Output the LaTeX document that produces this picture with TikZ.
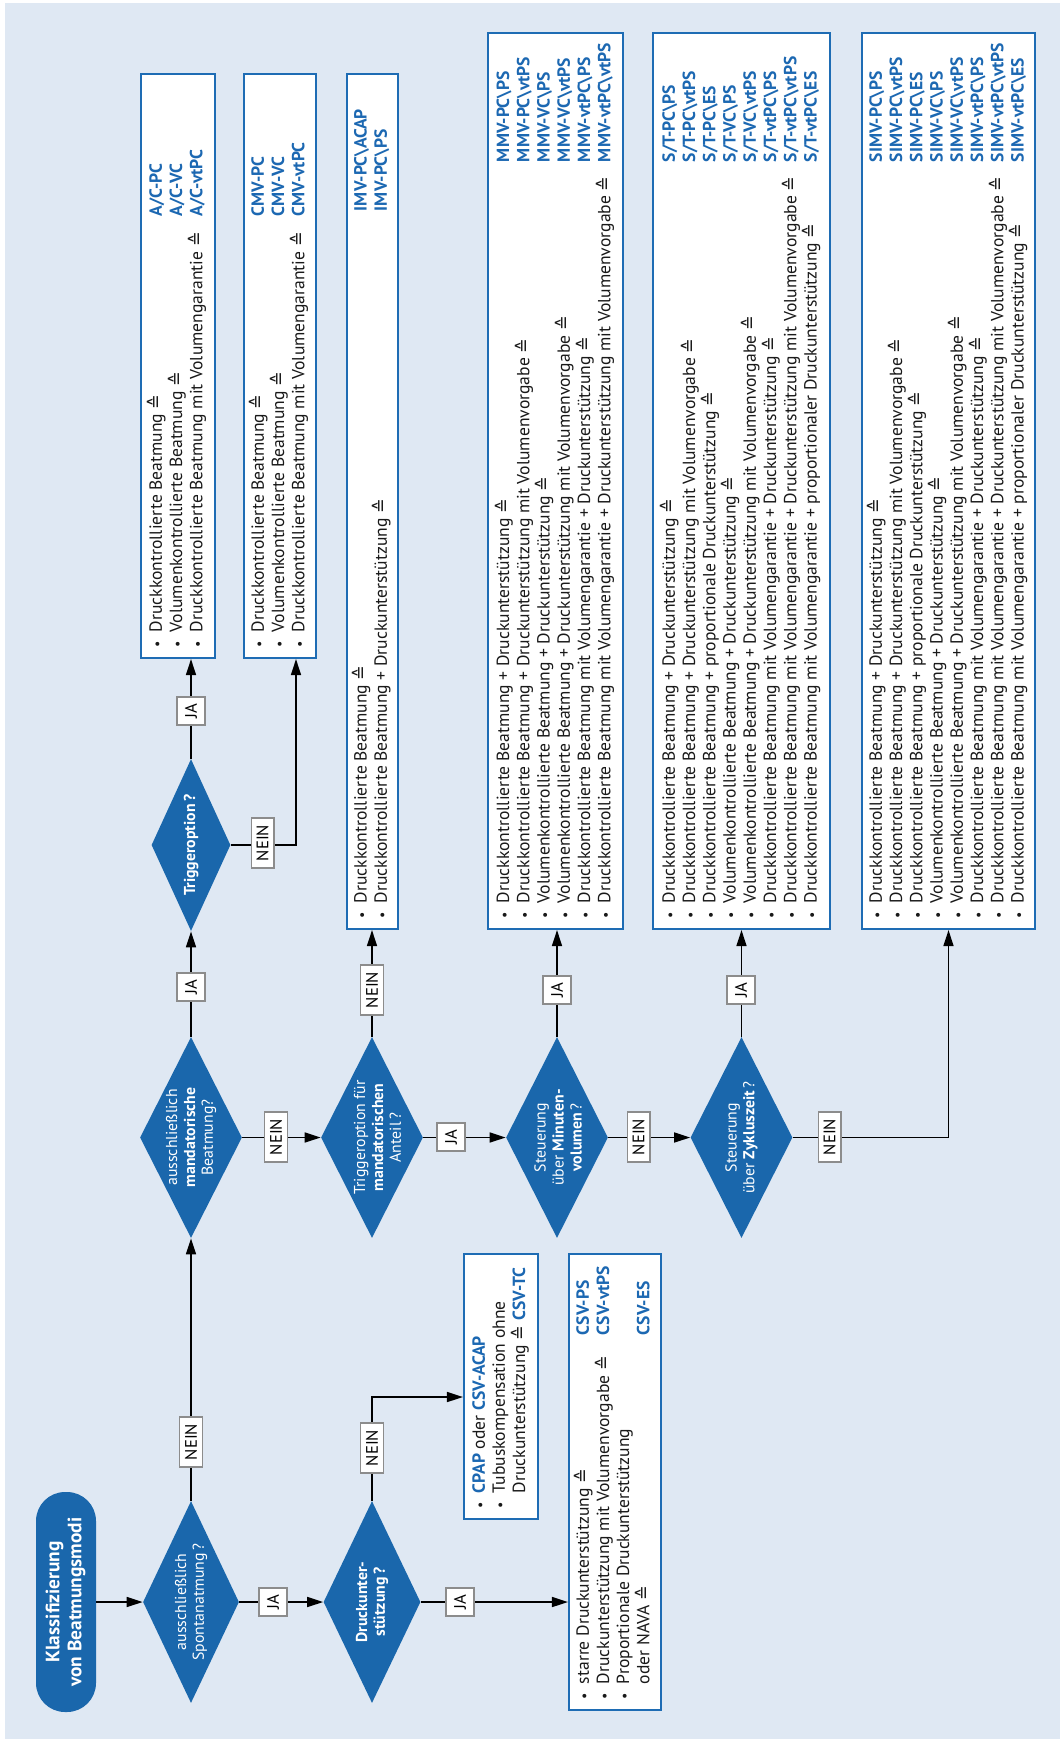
\documentclass[tikz,border=0pt]{standalone}
\usepackage{fontspec}
\setmainfont{PT Sans}
\newfontfamily\symfont{DejaVu Sans}
\usetikzlibrary{shapes.geometric,arrows.meta}
\newlength{\pxu}\setlength{\pxu}{0.02cm}
\newlength{\tcol}
\definecolor{hgblau}{RGB}{223,232,243}
\definecolor{rautenblau}{RGB}{26,103,172}
\definecolor{kastenblau}{RGB}{30,108,180}
\definecolor{abkblau}{RGB}{28,104,178}
\newcommand{\entspr}{{\symfont\char"2259}}
\newcommand{\abk}[1]{\textbf{\color{abkblau}#1}}
\newcommand{\bul}{\makebox[16\pxu][l]{\hspace{1\pxu}\scalebox{0.8}{\textbullet}}}
\newcommand{\eintrag}[2]{\makebox[\tcol][l]{\bul#1}&#2\\}
\newcommand{\folge}[2]{\makebox[\tcol][l]{\hspace{16\pxu}#1}&#2\\}
\newcommand{\kasten}[3]{\rotatebox{90}{\setlength{\tcol}{#2}\makebox[#1][l]{\begin{tabular}{@{}l@{}l@{}}#3\end{tabular}}}}
\newcommand{\raute}[2][-2.5pt]{\rotatebox{90}{\makebox[0pt]{\raisebox{#1}[0pt][0pt]{\begin{tabular}{@{}c@{}}#2\end{tabular}}}}}
\begin{document}
\begin{tikzpicture}[x=0.02cm,y=-0.02cm,
  raute/.style={diamond,fill=rautenblau,text=white,inner sep=0pt,minimum width=102\pxu,minimum height=201\pxu,font=\fontsize{9}{10.2}\selectfont},
  kasten/.style={draw=kastenblau,line width=1.2pt,fill=white,inner sep=0pt,text=black!90,font=\fontsize{10}{11.34}\selectfont},
  start/.style={rectangle,rounded corners=29\pxu,fill=rautenblau,text=white,inner sep=0pt,minimum width=60\pxu,minimum height=220\pxu,font=\fontsize{11}{12.5}\selectfont\bfseries},
  antwort/.style={draw=black!45,line width=0.8pt,fill=white,inner xsep=3pt,inner ysep=4pt,font=\fontsize{9.5}{11}\selectfont},
  jabox/.style={antwort,minimum width=28\pxu,minimum height=28\pxu,inner ysep=1pt},
  pfeil/.style={-{Triangle[length=0.32cm,width=0.2cm]},line width=0.9pt}]
\useasboundingbox (0,0) rectangle (1060,1739);
\fill [hgblau] (5,3) rectangle (1060,1739);
\node [start] (start) at (66,1602) {\rotatebox{90}{\begin{tabular}{@{}c@{}}Klassifizierung\\von Beatmungsmodi\end{tabular}}};
\node [raute,minimum width=96\pxu,minimum height=202\pxu] (d1) at (191,1602) {\raute{ausschließlich\\Spontanatmung\,?}};
\node [raute,minimum width=97\pxu,minimum height=202\pxu] (d2) at (372,1602) {\raute{\textbf{Druckunter-}\\\textbf{stützung\,?}}};
\node [raute] (d3) at (191,1137.5) {\raute{ausschließlich\\\textbf{mandatorische}\\Beatmung?}};
\node [raute,minimum width=79\pxu,minimum height=172\pxu] (d4) at (191,845) {\raute{\textbf{Triggeroption\,?}}};
\node [raute] (d5) at (372,1137.5) {\raute[-6.5pt]{Triggeroption für\\\textbf{mandatorischen}\\Anteil\,?}};
\node [raute] (d6) at (557,1137.5) {\raute[-4pt]{Steuerung\\über \textbf{Minuten-}\\\textbf{volumen}\,?}};
\node [raute] (d7) at (741.5,1137.5) {\raute{Steuerung\\über \textbf{Zykluszeit}\,?}};
\node [kasten,minimum width=74\pxu,minimum height=584\pxu] (ac) at (178,366) {\kasten{564\pxu}{432\pxu}{%
\eintrag{Druckkontrollierte Beatmung \entspr}{\abk{A/C-PC}}
\eintrag{Volumenkontrollierte Beatmung \entspr}{\abk{A/C-VC}}
\eintrag{Druckkontrollierte Beatmung mit Volumengarantie \entspr}{\abk{A/C-vtPC}}}};
\node [kasten,minimum width=72\pxu,minimum height=584\pxu] (cmv) at (280,366) {\kasten{564\pxu}{432\pxu}{%
\eintrag{Druckkontrollierte Beatmung \entspr}{\abk{CMV-PC}}
\eintrag{Volumenkontrollierte Beatmung \entspr}{\abk{CMV-VC}}
\eintrag{Druckkontrollierte Beatmung mit Volumengarantie \entspr}{\abk{CMV-vtPC}}}};
\node [kasten,minimum width=51\pxu,minimum height=855\pxu] (imv) at (372.5,501.5) {\kasten{835\pxu}{708\pxu}{%
\eintrag{Druckkontrollierte Beatmung \entspr}{\abk{IMV-PC\textbackslash ACAP}}
\eintrag{Druckkontrollierte Beatmung + Druckunterstützung \entspr}{\abk{IMV-PC\textbackslash PS}}}};
\node [kasten,minimum width=135\pxu,minimum height=896\pxu] (mmv) at (555.5,481) {\kasten{876\pxu}{757\pxu}{%
\eintrag{Druckkontrollierte Beatmung + Druckunterstützung \entspr}{\abk{MMV-PC\textbackslash PS}}
\eintrag{Druckkontrollierte Beatmung + Druckunterstützung mit Volumenvorgabe \entspr}{\abk{MMV-PC\textbackslash vtPS}}
\eintrag{Volumenkontrollierte Beatmung + Druckunterstützung \entspr}{\abk{MMV-VC\textbackslash PS}}
\eintrag{Volumenkontrollierte Beatmung + Druckunterstützung mit Volumenvorgabe \entspr}{\abk{MMV-VC\textbackslash vtPS}}
\eintrag{Druckkontrollierte Beatmung mit Volumengarantie + Druckunterstützung \entspr}{\abk{MMV-vtPC\textbackslash PS}}
\eintrag{Druckkontrollierte Beatmung mit Volumengarantie + Druckunterstützung mit Volumenvorgabe \entspr}{\abk{MMV-vtPC\textbackslash vtPS}}}};
\node [kasten,minimum width=177\pxu,minimum height=896\pxu] (st) at (741.5,481) {\kasten{876\pxu}{757\pxu}{%
\eintrag{Druckkontrollierte Beatmung + Druckunterstützung \entspr}{\abk{S/T-PC\textbackslash PS}}
\eintrag{Druckkontrollierte Beatmung + Druckunterstützung mit Volumenvorgabe \entspr}{\abk{S/T-PC\textbackslash vtPS}}
\eintrag{Druckkontrollierte Beatmung + proportionale Druckunterstützung \entspr}{\abk{S/T-PC\textbackslash ES}}
\eintrag{Volumenkontrollierte Beatmung + Druckunterstützung \entspr}{\abk{S/T-VC\textbackslash PS}}
\eintrag{Volumenkontrollierte Beatmung + Druckunterstützung mit Volumenvorgabe \entspr}{\abk{S/T-VC\textbackslash vtPS}}
\eintrag{Druckkontrollierte Beatmung mit Volumengarantie + Druckunterstützung \entspr}{\abk{S/T-vtPC\textbackslash PS}}
\eintrag{Druckkontrollierte Beatmung mit Volumengarantie + Druckunterstützung mit Volumenvorgabe \entspr}{\abk{S/T-vtPC\textbackslash vtPS}}
\eintrag{Druckkontrollierte Beatmung mit Volumengarantie + proportionaler Druckunterstützung \entspr}{\abk{S/T-vtPC\textbackslash ES}}}};
\node [kasten,minimum width=173\pxu,minimum height=896\pxu] (simv) at (948.5,481) {\kasten{876\pxu}{757\pxu}{%
\eintrag{Druckkontrollierte Beatmung + Druckunterstützung \entspr}{\abk{SIMV-PC\textbackslash PS}}
\eintrag{Druckkontrollierte Beatmung + Druckunterstützung mit Volumenvorgabe \entspr}{\abk{SIMV-PC\textbackslash vtPS}}
\eintrag{Druckkontrollierte Beatmung + proportionale Druckunterstützung \entspr}{\abk{SIMV-PC\textbackslash ES}}
\eintrag{Volumenkontrollierte Beatmung + Druckunterstützung \entspr}{\abk{SIMV-VC\textbackslash PS}}
\eintrag{Volumenkontrollierte Beatmung + Druckunterstützung mit Volumenvorgabe \entspr}{\abk{SIMV-VC\textbackslash vtPS}}
\eintrag{Druckkontrollierte Beatmung mit Volumengarantie + Druckunterstützung \entspr}{\abk{SIMV-vtPC\textbackslash PS}}
\eintrag{Druckkontrollierte Beatmung mit Volumengarantie + Druckunterstützung mit Volumenvorgabe \entspr}{\abk{SIMV-vtPC\textbackslash vtPS}}
\eintrag{Druckkontrollierte Beatmung mit Volumengarantie + proportionaler Druckunterstützung \entspr}{\abk{SIMV-vtPC\textbackslash ES}}}};
\node [kasten,minimum width=74\pxu,minimum height=265\pxu] (cpap) at (501,1386.5) {\kasten{245\pxu}{245\pxu}{%
\eintrag{\abk{CPAP} oder \abk{CSV-ACAP}}{}
\eintrag{Tubuskompensation ohne}{}
\folge{Druckunterstützung \entspr\ \abk{CSV-TC}}{}}};
\node [kasten,minimum width=92\pxu,minimum height=456\pxu] (csv) at (615,1482) {\kasten{436\pxu}{365\pxu}{%
\eintrag{starre Druckunterstützung \entspr}{\abk{CSV-PS}}
\eintrag{Druckunterstützung mit Volumenvorgabe \entspr}{\abk{CSV-vtPS}}
\eintrag{Proportionale Druckunterstützung}{}
\folge{oder NAVA \entspr}{\abk{CSV-ES}}}};
\draw [pfeil] (start) -- (d1);
\draw [pfeil] (d1) -- (d2);
\draw [pfeil] (d2.east) -- (d2.east -| csv.west);
\draw [pfeil] (d1.north) -- (d3.south);
\draw [pfeil] (d2.north) |- ([yshift=-0.21cm]cpap.west);
\draw [pfeil] (d3.north) -- (d4.south);
\draw [pfeil] (d4.north) -- (d4.north |- ac.south);
\draw [pfeil] (d4.east) -| ([xshift=0.32cm]cmv.south);
\draw [pfeil] (d3) -- (d5);
\draw [pfeil] (d5.north) -- (d5.north |- imv.south);
\draw [pfeil] (d5) -- (d6);
\draw [pfeil] (d6.north) -- (d6.north |- mmv.south);
\draw [pfeil] (d6) -- (d7);
\draw [pfeil] (d7.north) -- (st.south);
\draw [pfeil] (d7.east) -| (simv.south);
\node [jabox] (ja1) at (273,1602) {\rotatebox{90}{JA}};
\node [jabox] (ja2) at (460,1602) {\rotatebox{90}{JA}};
\node [antwort] (nein1) at (191,1442) {\rotatebox{90}{NEIN}};
\node [antwort] (nein2) at (372,1448) {\rotatebox{90}{NEIN}};
\node [jabox] (ja3) at (191,987) {\rotatebox{90}{JA}};
\node [jabox] (ja4) at (191,711) {\rotatebox{90}{JA}};
\node [antwort] (nein3) at (262.5,843) {\rotatebox{90}{NEIN}};
\node [antwort] (nein4) at (276,1137) {\rotatebox{90}{NEIN}};
\node [antwort] (nein5) at (372,990) {\rotatebox{90}{NEIN}};
\node [jabox] (ja5) at (451,1137) {\rotatebox{90}{JA}};
\node [jabox] (ja6) at (557,990) {\rotatebox{90}{JA}};
\node [antwort] (nein6) at (638.5,1137) {\rotatebox{90}{NEIN}};
\node [jabox] (ja7) at (741,990) {\rotatebox{90}{JA}};
\node [antwort] (nein7) at (829.5,1137) {\rotatebox{90}{NEIN}};
\end{tikzpicture}
\end{document}
